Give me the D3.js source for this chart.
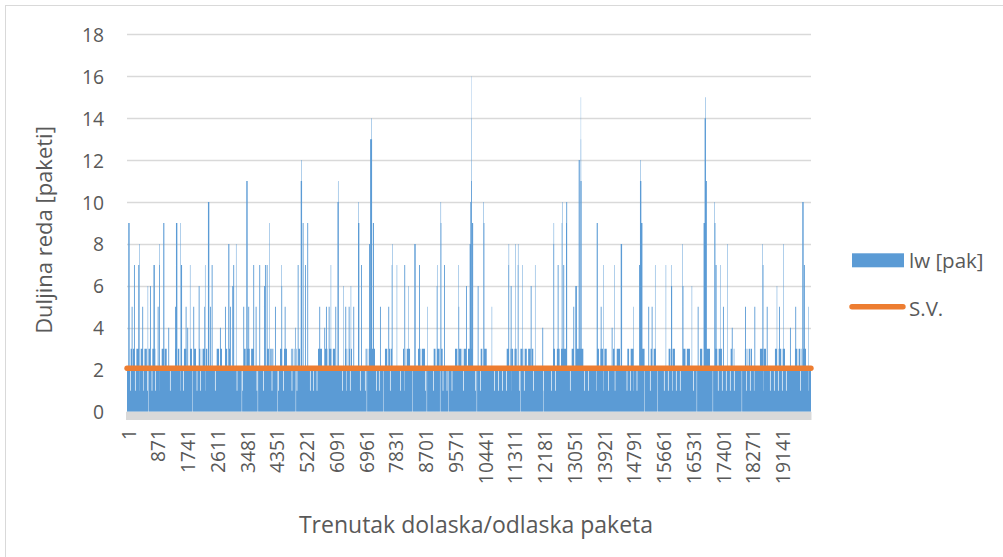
<!DOCTYPE html>
<html><head><meta charset="utf-8">
<script src="https://cdn.jsdelivr.net/npm/d3@7"></script>
<style>
html,body{margin:0;padding:0;background:#fff;}
svg{display:block;}
text{font-family:"Open Sans",sans-serif;fill:#595959;}
</style></head><body>
<svg id="c" width="1003" height="557"></svg>
<script>
// ---- data ----
const packetCount = 20000;
const xTickLabels = [1,871,1741,2611,3481,4351,5221,6091,6961,7831,8701,9571,10441,11311,12181,13051,13921,14791,15661,16531,17401,18271,19141];
const yTickValues = [0,2,4,6,8,10,12,14,16,18];
const seriesNames = ["lw [pak]", "S.V."];
const axisTitleX = "Trenutak dolaska/odlaska paketa";
const axisTitleY = "Duljina reda [paketi]";

const baseQueue = 2;                 // usual queue length between bursts
const level3From = [88,175,275,401,510,615,722,810,1015,1105,1404,1490,1646,1842,1940,2105,2210,2310,2623,2725,2866,2965,3401,3510,3630,4085,4190,4474,4580,4795,4900,5020,5585,5790,5900,6020,6374,6480,6959,7070,7544,7650,8071,8180,8510,8620,8948,9060,9180,9591,9700,9820,9971,10322,10430,11102,11210,11330,11491,11600,11730,11840,12457,12570,12690,13003,13110,13734,13840,13960,14211,14320,14611,14720,15000,15292,15400,15818,15930,16257,16370,16754,16860,17192,17300,17631,17740,18069,18180,18508,18620,18947,19050,19170,19532,19640,19760];
const level3To   = [140,240,330,470,580,673,780,848,1070,1161,1460,1529,1746,1900,2018,2170,2280,2348,2690,2778,2930,3012,3470,3590,3693,4150,4278,4540,4678,4860,4980,5059,5702,5860,5980,6082,6440,6579,7030,7251,7610,7749,8140,8276,8580,8714,9020,9140,9240,9660,9780,9933,10117,10390,10518,11170,11290,11395,11560,11690,11800,11881,12530,12650,12857,13070,13343,13800,13920,14027,14280,14416,14680,14805,15146,15360,15467,15890,16022,16330,16461,16820,17046,17260,17397,17700,17777,18140,18274,18580,18684,19010,19130,19239,19600,19720,19854];
const dipPacket = [88,234,351,468,585,722,819,944,1061,1257,1404,1550,1647,2038,2135,2281,2573,2719,2866,3208,3363,3547,3791,3986,4231,4424,4571,4815,4961,5351,5439,5547,
  6287,6403,6520,6813,6959,7281,7368,7690,7983,8100,8422,8714,8948,
  9231,9348,9494,9834,10176,10322,10732,10849,10966,11083,11229,11462,11608,11881,12173,12398,12515,12953,13051,13363,13480,13724,13919,14065,14260,14455,14611,14708,14805,14903,
  15292,15701,15818,15935,16052,16169,16553,17279,17397,17514,17631,17748,18099,18216,18333,18597,18801,18918,19035,19152,19269,19679,19913];
const dipLength = 20;                // packets at queue length 1
const emptyPacket = [623,1909,3354,3822,4395,4933,7009,7495,8348,8763,9152,9395,10225,11506,12173,15132,15506,16658,17126,17974];
const emptyLength = 12;              // packets with an empty queue
const spikePacket = [38,137,205,330,360,447,605,673,775,898,936,944,1061,1208,1404,1433,1559,1579,1716,1763,1841,1939,2097,2260,2281,2368,2427,2477,2719,2866,2962,3012,3079,3108,3187,3401,3489,3547,3693,3763,3869,4006,4035,4085,4161,4328,4512,4518,4612,4913,4992,5080,5095,5138,5205,5272,5623,5769,5819,5898,5957,6092,6155,6170,6326,6384,6483,6542,6618,6755,6770,6843,7080,7110,7135,7150,7190,7398,7641,7741,7750,7887,8109,8226,8402,8539,8782,9057,9065,9162,9170,9270,9688,9695,9913,10020,10040,10060,10070,10075,10090,10255,10419,10425,10664,11150,11160,11220,11346,11425,11432,11560,11805,11930,12144,12466,12475,12594,12711,12720,12758,12837,12845,13051,13109,13130,13208,13255,13265,13270,13735,13852,13928,14173,14249,14437,14805,14975,15000,15010,15040,15243,15342,15439,15752,15907,15915,16238,16245,16512,16688,16860,16890,16905,16930,17173,17180,17214,17340,17427,17553,17685,18074,18345,18579,18585,18707,18999,19065,19191,19386,19541,19746,19760,19795,19921];
const spikeQueue  = [9,5,7,7,8,5,6,6,7,5,7,8,9,4,5,9,9,7,5,4,7,5,6,5,7,10,5,7,4,5,8,5,6,7,8,5,11,5,7,5,7,6,7,7,9,5,6,7,5,4,7,11,12,9,7,9,5,4,5,5,7,5,10,11,6,5,5,6,5,9,10,7,8,13,13,14,9,5,5,7,8,7,7,6,8,7,5,6,7,9,10,7,5,7,6,8,10,11,14,16,9,6,9,10,5,7,8,6,8,7,8,7,6,7,4,8,9,7,9,10,7,9,10,5,6,6,12,11,13,15,9,5,7,4,7,8,5,7,11,12,9,5,5,7,7,7,6,8,6,6,5,9,14,15,11,10,9,7,7,5,8,4,5,5,8,7,5,6,5,8,4,5,10,9,7,5];
const spikeSpan   = [40,26,26,26,14,26,14,26,40,26,26,14,32,26,26,40,14,32,26,26,14,26,26,26,14,40,26,26,26,26,32,26,26,26,14,26,40,26,26,26,26,26,26,26,14,26,26,14,26,26,26,40,14,26,26,26,26,26,26,26,14,26,40,14,14,26,26,14,26,40,14,26,26,40,32,14,32,26,26,26,14,14,26,14,40,26,14,26,14,32,14,26,26,14,26,26,40,26,14,8,32,26,32,14,14,26,14,26,14,26,14,14,26,14,26,26,14,26,26,14,26,32,26,26,26,26,32,40,16,8,32,26,14,26,14,40,14,26,40,14,32,26,26,14,14,14,26,14,26,14,26,32,40,14,26,14,26,26,14,26,14,26,26,26,14,26,26,14,26,14,26,26,40,26,26,14];
const meanQueue = 2.07;              // S.V. (mean queue length)

// ---- build the series ----
const lw = new Array(packetCount).fill(baseQueue);
level3From.forEach((a, k) => { for (let p = a; p <= level3To[k]; p++) lw[p - 1] = 3; });
dipPacket.forEach(a => { for (let p = a; p < a + dipLength && p <= packetCount; p++) lw[p - 1] = 1; });
spikePacket.forEach((a, k) => {
  for (let p = a; p < a + spikeSpan[k] && p <= packetCount; p++) lw[p - 1] = Math.max(lw[p - 1], spikeQueue[k]);
});
emptyPacket.forEach(a => { for (let p = a; p < a + emptyLength && p <= packetCount; p++) lw[p - 1] = 0; });

// ---- layout ----
const W = 1003, H = 557;
const plot = {l: 127, r: 811, t: 34.3, b: 411.7};
const C = {blue: "#5b9bd5", orange: "#ed7d31", grid: "#d9d9d9", text: "#595959"};

const svg = d3.select("#c");
const x = d3.scaleLinear().domain([0.5, packetCount + 0.5]).range([plot.l, plot.r]);
const y = d3.scaleLinear().domain([0, 18]).range([plot.b, plot.t]);

// chart border
svg.append("rect").attr("x", 5.5).attr("y", 5.5).attr("width", W + 10).attr("height", H + 10)
  .attr("fill", "none").attr("stroke", C.grid).attr("stroke-width", 1);

// gridlines
svg.append("g").selectAll("line").data(yTickValues.filter(v => v > 0)).join("line")
  .attr("x1", plot.l).attr("x2", plot.r)
  .attr("y1", d => Math.round(y(d)) + 0.5).attr("y2", d => Math.round(y(d)) + 0.5)
  .attr("stroke", C.grid).attr("stroke-width", 1.3);

// bars: one path of merged runs so neighbouring bars fuse without seams
let d = "";
for (let i = 0; i < packetCount;) {
  let j = i;
  while (j + 1 < packetCount && lw[j + 1] === lw[i]) j++;
  if (lw[i] > 0) {
    const x0 = x(i + 1 - 0.5), x1 = x(j + 1 + 0.5);
    d += `M${x0.toFixed(3)},${y(lw[i]).toFixed(2)}H${x1.toFixed(3)}V${y(0).toFixed(2)}H${x0.toFixed(3)}Z`;
  }
  i = j + 1;
}
svg.append("path").attr("d", d).attr("fill", C.blue);

// axis floor band
svg.append("rect").attr("x", plot.l - 1).attr("y", y(0)).attr("width", plot.r - plot.l + 1.5).attr("height", 8.3)
  .attr("fill", C.grid);

// mean line
const line = d3.line().x(p => x(p)).y(() => y(meanQueue));
svg.append("path").attr("d", line([1, packetCount])).attr("fill", "none")
  .attr("stroke", C.orange).attr("stroke-width", 5.4).attr("stroke-linecap", "round");

// y tick labels
svg.append("g").selectAll("text").data(yTickValues).join("text")
  .attr("x", 104).attr("y", d => y(d)).attr("text-anchor", "end").attr("dominant-baseline", "central")
  .attr("font-size", 19.3).text(d => d);

// x tick labels
svg.append("g").selectAll("text").data(xTickLabels).join("text")
  .attr("transform", d => `translate(${x(d) + 1},429) rotate(-90)`)
  .attr("text-anchor", "end").attr("dominant-baseline", "central")
  .attr("font-size", 19.3).text(d => d);

// axis titles
svg.append("text").attr("transform", "translate(52,230) rotate(-90)").attr("text-anchor", "middle")
  .attr("font-size", 22).text(axisTitleY);
svg.append("text").attr("x", 476).attr("y", 533).attr("text-anchor", "middle")
  .attr("font-size", 23).text(axisTitleX);

// legend
const lg = svg.append("g");
lg.append("rect").attr("x", 852).attr("y", 253.3).attr("width", 52).attr("height", 14).attr("fill", C.blue);
lg.append("text").attr("x", 909).attr("y", 268).attr("font-size", 20.5).text(seriesNames[0]);
lg.append("line").attr("x1", 852).attr("x2", 903).attr("y1", 306.7).attr("y2", 306.7)
  .attr("stroke", C.orange).attr("stroke-width", 5.4).attr("stroke-linecap", "round");
lg.append("text").attr("x", 909).attr("y", 316).attr("font-size", 20.5).text(seriesNames[1]);
</script>
</body></html>
